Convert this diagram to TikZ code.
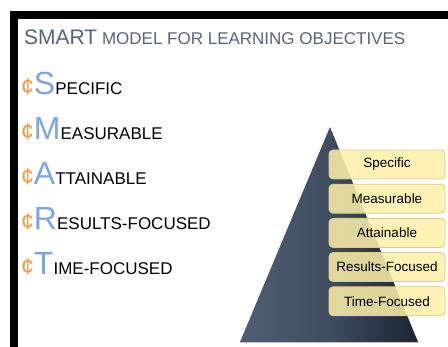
\documentclass[tikz,border=0pt]{standalone}
\usepackage{fontspec}
\setmainfont{Liberation Sans}
\definecolor{titlegray}{HTML}{56657A}
\definecolor{smartblue}{HTML}{7EA6E0}
\definecolor{bulletorange}{HTML}{F59A3C}
\definecolor{pyrlight}{HTML}{4F5E73}
\definecolor{pyrdark}{HTML}{1B2532}
\definecolor{boxfill}{HTML}{FCF0A8}
\definecolor{boxline}{HTML}{D9CD8E}
\tikzset{
  item/.style={anchor=base west, inner sep=0pt, text=black},
  levelbox/.style={draw=boxline, line width=0.8pt, fill=boxfill, fill opacity=0.86, text opacity=1,
    rounded corners=4pt, minimum width=116pt, minimum height=29pt, inner sep=0pt,
    font=\fontsize{13.5}{13.5}\selectfont},
}
\newcommand{\smartitem}[2]{{\fontsize{23}{23}\selectfont\color{bulletorange}¢}{\fontsize{32}{32}\selectfont\color{smartblue}#1}{\fontsize{17}{17}\selectfont #2}}
\begin{document}
\begin{tikzpicture}[x=1pt,y=-1pt]
\useasboundingbox (0,0) rectangle (448,347);
\fill[white] (0,0) rectangle (448,347);
% frame
\draw[gray!60, line width=0.8pt] (10,11) -- (448,11);
\fill[black] (10,11.5) rectangle (448,19);
\fill[black] (10,11.5) rectangle (18,347);
% title
\node[anchor=base west, inner sep=0pt, text=titlegray] (title) at (24,45)
  {{\fontsize{21}{21}\selectfont SMART}{\fontsize{17}{17}\selectfont\ MODEL FOR LEARNING OBJECTIVES}};
% list
\node[item] (s) at (21,95) {\smartitem{S}{PECIFIC}};
\node[item] (m) at (21,140) {\smartitem{M}{EASURABLE}};
\node[item] (a) at (21,185) {\smartitem{A}{TTAINABLE}};
\node[item] (r) at (21,230) {\smartitem{R}{ESULTS-FOCUSED}};
\node[item] (t) at (21,275) {\smartitem{T}{IME-FOCUSED}};
% pyramid
\shade[left color=pyrlight, right color=pyrdark, middle color=pyrlight!70!pyrdark]
  (330,127) -- (418,342) -- (240,342) -- cycle;
\draw[gray!50, line width=0.6pt] (240,342.5) -- (418,342.5);
% level boxes
\node[levelbox] (b1) at (387,164.5) {Specific};
\node[levelbox] (b2) at (387,198.7) {Measurable};
\node[levelbox] (b3) at (387,232.9) {Attainable};
\node[levelbox] (b4) at (387,267.1) {Results-Focused};
\node[levelbox] (b5) at (387,301.3) {Time-Focused};
\end{tikzpicture}
\end{document}
